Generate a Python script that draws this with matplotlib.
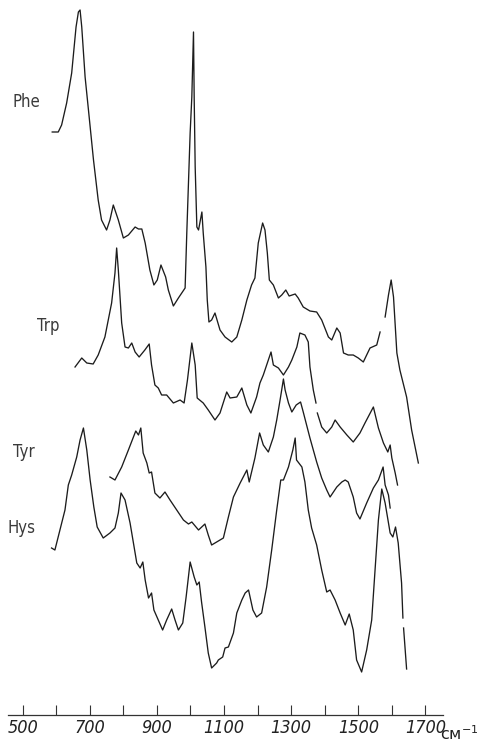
import numpy as np
import matplotlib
matplotlib.use("Agg")
import matplotlib.pyplot as plt

# Raman spectra of aromatic amino acids (offset traces, arbitrary intensity)
phe_cm = [588, 606, 616, 631, 646, 659, 666, 671, 676, 686, 696, 711, 725, 735, 750, 760, 770, 785, 800,
          815, 835, 845, 855, 865, 879, 891, 901, 912, 926, 934, 949, 964, 984, 989, 999, 1004, 1009, 1011,
          1014, 1019, 1024, 1034, 1038, 1046, 1050, 1055, 1063, 1073, 1088, 1103, 1123, 1138, 1153, 1168,
          1182, 1192, 1202, 1215, 1222, 1229, 1235, 1247, 1262, 1272, 1284, 1294, 1312, 1321, 1336, 1356,
          1376, 1391, 1411, 1421, 1436, 1446, 1456, 1470, 1485, 1500, 1515, 1535, 1555, 1565, 1572, 1580,
          1590, 1598, 1605, 1615, 1624, 1644, 1659, 1679]
phe_h = [583, 583, 590, 612, 642, 688, 703, 705, 688, 638, 605, 555, 515, 495, 485, 495, 510, 495, 477,
         480, 488, 486, 486, 472, 445, 430, 435, 450, 438, 425, 409, 417, 427, 482, 582, 618, 683, 618,
         548, 488, 485, 503, 482, 448, 415, 393, 395, 402, 385, 378, 373, 378, 395, 415,
         430, 437, 472, 492, 485, 462, 435, 430, 417, 420, 425, 419, 421, 417, 408, 404,
         403, 395, 378, 375, 387, 382, 362, 360, 360, 357, 353, 367, 370, 383, np.nan, 398,
         420, 435, 418, 362, 345, 318, 285, 252]

trp_cm = [656, 676, 691, 710, 725, 745, 765, 775, 780, 785, 795, 805, 815, 825, 835, 847, 864, 877, 884,
          894, 904, 914, 929, 949, 969, 981, 991, 1004, 1014, 1020, 1038, 1053, 1073, 1088, 1108, 1118,
          1138, 1153, 1168, 1180, 1197, 1207, 1217, 1227, 1240, 1247, 1262, 1277, 1292, 1302, 1317, 1326,
          1341, 1351, 1356, 1366, 1374, 1376, 1378, 1391, 1406, 1421, 1431, 1446, 1466, 1485, 1505, 1520,
          1545, 1560, 1575, 1588, 1595, 1600, 1610, 1617]
trp_h = [348, 357, 352, 351, 360, 378, 412, 442, 467, 445, 392, 368, 367, 372, 363, 358, 365, 371, 350,
         330, 327, 320, 320, 312, 315, 312, 335, 372, 350, 317, 312, 305, 295, 302, 323, 317,
         318, 327, 310, 302, 318, 332, 340, 350, 363, 350, 347, 340, 348, 355, 368, 382,
         380, 373, 348, 325, 312, np.nan, 302, 288, 282, 288, 295, 288, 280, 273, 282, 292,
         308, 287, 272, 263, 270, 257, 242, 230]

tyr_cm = [760, 775, 795, 815, 830, 837, 845, 852, 859, 870, 877, 884, 894, 909, 924, 939, 959, 979, 994,
          1004, 1024, 1043, 1053, 1063, 1078, 1088, 1098, 1113, 1128, 1148, 1168, 1175, 1192, 1206, 1217,
          1232, 1247, 1257, 1267, 1277, 1282, 1292, 1302, 1315, 1328, 1336, 1356, 1376, 1391, 1406, 1416,
          1436, 1451, 1461, 1470, 1485, 1495, 1505, 1525, 1545, 1560, 1574, 1580, 1590, 1595]
tyr_h = [238, 235, 248, 265, 278, 284, 280, 287, 262, 252, 242, 243, 222, 217, 223, 215, 205, 195, 191,
         193, 185, 191, 180, 170, 173, 175, 177, 198, 218, 232, 245, 233, 257, 282, 270,
         263, 278, 295, 315, 336, 325, 312, 303, 310, 313, 303, 277, 253, 237, 225, 218,
         228, 233, 235, 233, 218, 202, 196, 212, 227, 235, 248, 230, 220, 207]

hys_cm = [586, 596, 611, 626, 636, 646, 661, 671, 681, 691, 701, 712, 722, 740, 760, 775, 785, 793, 805,
          820, 830, 840, 850, 858, 865, 875, 884, 891, 904, 917, 929, 944, 954, 964, 977, 987, 999, 1011,
          1019, 1026, 1033, 1043, 1053, 1063, 1078, 1083, 1096, 1103, 1113, 1128, 1138, 1153, 1163, 1173,
          1186, 1197, 1212, 1227, 1242, 1257, 1269, 1277, 1292, 1305, 1312, 1316, 1332, 1341, 1351, 1361,
          1376, 1391, 1406, 1416, 1431, 1446, 1461, 1473, 1485, 1495, 1510, 1525, 1540, 1550, 1560, 1570,
          1580, 1595, 1603, 1611, 1619, 1629, 1633, 1634, 1635, 1644]
hys_h = [167, 165, 185, 205, 230, 240, 258, 275, 287, 265, 235, 208, 188, 177, 182, 187, 202, 222, 215,
         192, 172, 152, 147, 153, 135, 117, 122, 105, 95, 85, 95, 106, 95, 85, 92, 118, 153, 138,
         130, 133, 113, 88, 62, 47, 52, 55, 58, 67, 68, 82, 102, 115, 122, 125,
         105, 98, 102, 128, 165, 205, 235, 235, 248, 265, 277, 255, 248, 233, 205, 187,
         170, 145, 123, 125, 115, 102, 90, 101, 85, 55, 43, 65, 95, 145, 195, 226,
         212, 182, 178, 188, 172, 132, 97, np.nan, 87, 46]

labels = ["Phe", "Trp", "Tyr", "Hys"]
label_pos = [(471, 613), (543, 389), (471, 263), (456, 187)]

tick_vals = list(range(500, 1800, 100))
tick_text = [str(v) if v % 200 == 100 else "" for v in tick_vals]

fnt = ["DejaVu Sans"]

fig = plt.figure(figsize=(4.81, 7.47), dpi=100)
ax = fig.add_axes([0, 0, 1, 1])
ax.set_xlim(432.4, 1865.7)
ax.set_ylim(-32, 715)

col = "#1c1c1c"
for xs, ys in [(phe_cm, phe_h), (trp_cm, trp_h), (tyr_cm, tyr_h), (hys_cm, hys_h)]:
    ax.plot(xs, ys, color=col, lw=0.95, solid_joinstyle="round")

for name, (lx, ly) in zip(labels, label_pos):
    ax.text(lx, ly, name, family=fnt, fontstretch="condensed", fontsize=12,
            color="#3a3a3a", ha="left", va="center")

for s in ["top", "left", "right"]:
    ax.spines[s].set_visible(False)
ax.spines["bottom"].set_position(("data", 0))
ax.spines["bottom"].set_bounds(456, 1752)
ax.spines["bottom"].set_linewidth(0.9)
ax.spines["bottom"].set_color("#333333")
ax.set_yticks([])
ax.set_xticks(tick_vals)
ax.set_xticklabels(tick_text, family=fnt, fontstretch="condensed", style="italic",
                   fontsize=13, color="#222222")
ax.tick_params(axis="x", direction="in", length=7, width=0.8, color="#333333", pad=3)

ax.text(1745, -19, "см$^{-1}$", family=fnt, fontsize=11.5, color="#222222", ha="left", va="center")

fig.savefig("out.png", dpi=100)
